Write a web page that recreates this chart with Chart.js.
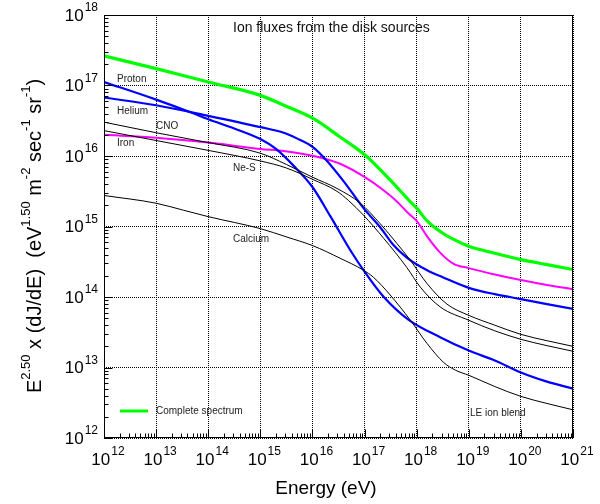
<!DOCTYPE html>
<html>
<head>
<meta charset="utf-8">
<script src="https://cdn.jsdelivr.net/npm/chart.js@4"></script>
<style>
html,body{margin:0;padding:0;background:#fff;}
canvas{display:block;}
</style>
</head>
<body>
<canvas id="c" width="600" height="504"></canvas>
<script>
// ---- data (log10 of energy in eV, log10 of E^2.5 dJ/dE) ----
const xTickExps = [12, 13, 14, 15, 16, 17, 18, 19, 20, 21];
const yTickExps = [12, 13, 14, 15, 16, 17, 18];

const completeE = [12, 13, 14, 15, 15.45, 16.02, 16.53, 17.03, 17.49, 17.88, 18.0, 18.2, 18.45, 18.7, 19.0, 19.5, 20.0, 20.5, 21.0];
const completeF = [17.42, 17.24, 17.05, 16.86, 16.72, 16.53, 16.27, 16.0, 15.66, 15.35, 15.26, 15.08, 14.93, 14.82, 14.72, 14.62, 14.53, 14.46, 14.39];

const protonE = [12, 13, 13.66, 14, 14.5, 15, 15.3, 15.64, 16.0, 16.34, 16.73, 17.0, 17.37, 17.84, 18.45, 19.0, 19.5, 20.0, 20.5, 21.0];
const protonF = [17.05, 16.80, 16.62, 16.52, 16.39, 16.24, 16.10, 15.86, 15.56, 15.15, 14.66, 14.36, 14.0, 13.68, 13.43, 13.24, 13.10, 12.93, 12.80, 12.70];

const heliumE = [12, 13, 14, 15, 15.45, 15.7, 16.02, 16.28, 16.6, 16.98, 17.3, 17.55, 17.81, 18.2, 18.5, 19.0, 19.5, 20.0, 20.5, 21.0];
const heliumF = [16.83, 16.72, 16.57, 16.41, 16.33, 16.25, 16.12, 15.93, 15.64, 15.26, 14.99, 14.74, 14.56, 14.38, 14.28, 14.13, 14.04, 13.97, 13.90, 13.83];

const ironE = [12, 13, 14, 15, 15.45, 16.02, 16.53, 17.05, 17.3, 17.6, 17.85, 18.0, 18.2, 18.45, 18.71, 19.0, 19.5, 20.0, 20.5, 21.0];
const ironF = [16.30, 16.26, 16.19, 16.10, 16.07, 16.0, 15.89, 15.68, 15.55, 15.37, 15.18, 15.08, 14.86, 14.63, 14.47, 14.41, 14.32, 14.24, 14.17, 14.11];

const cnoE = [12, 13, 14, 15, 15.5, 16.0, 16.47, 16.92, 17.3, 17.62, 17.88, 18.2, 18.58, 19.0, 19.5, 20.0, 20.5, 21.0];
const cnoF = [16.48, 16.33, 16.19, 16.04, 15.88, 15.70, 15.54, 15.33, 15.04, 14.76, 14.52, 14.19, 13.90, 13.74, 13.60, 13.47, 13.38, 13.30];

const nesE = [12, 13, 14, 15, 15.5, 16.0, 16.47, 16.69, 16.98, 17.37, 17.81, 18.07, 18.45, 19.0, 19.5, 20.0, 20.5, 21.0];
const nesF = [16.36, 16.22, 16.08, 15.93, 15.83, 15.67, 15.50, 15.37, 15.16, 14.83, 14.42, 14.14, 13.86, 13.67, 13.52, 13.40, 13.31, 13.23];

const calciumE = [12, 13, 13.53, 14, 15, 15.51, 16.0, 16.53, 16.98, 17.17, 17.49, 17.88, 18.2, 18.52, 18.75, 19.0, 19.5, 20.0, 20.5, 21.0];
const calciumF = [15.44, 15.33, 15.23, 15.14, 14.97, 14.85, 14.73, 14.55, 14.38, 14.28, 14.03, 13.67, 13.34, 13.07, 12.96, 12.89, 12.73, 12.59, 12.49, 12.40];

const curveNames = ['Proton', 'Helium', 'CNO', 'Iron', 'Ne-S', 'Calcium'];
const legendText = 'Complete spectrum';
const noteText = 'LE ion blend';
const titleText = 'Ion fluxes from the disk sources';
const xTitle = 'Energy (eV)';

// ---- build ----
const pts = (es, fs) => es.map((e, i) => ({x: Math.pow(10, e), y: Math.pow(10, fs[i])}));
function ds(label, es, fs, color, w) {
  return {label, data: pts(es, fs), borderColor: color, borderWidth: w, pointRadius: 0,
    fill: false, cubicInterpolationMode: 'monotone', borderCapStyle: 'butt', borderJoinStyle: 'round'};
}
const FONT = '"Liberation Sans", Arial, Helvetica, sans-serif';

// label pixel positions (left, middle)
const labelPos = [[117, 79], [117, 111], [156, 126], [117, 143], [233, 168], [233, 239]];

const decor = {
  id: 'decor',
  afterDraw(chart) {
    const {ctx, chartArea: a, scales: {x, y}} = chart;
    ctx.save();
    ctx.strokeStyle = '#000';
    ctx.lineWidth = 1;
    ctx.setLineDash([]);
    const L = Math.round(a.left) + 0.5, R = Math.round(a.right) - 0.5;
    const T = Math.round(a.top) + 0.5, B = Math.round(a.bottom) - 0.5;
    ctx.strokeRect(L, T, R - L, B - T);
    // ticks
    ctx.beginPath();
    for (let i = 0; i < xTickExps.length; i++) {
      const e = xTickExps[i];
      const px = Math.round(x.getPixelForValue(Math.pow(10, e))) + 0.5;
      ctx.moveTo(px, B); ctx.lineTo(px, B - 8);
      if (i < xTickExps.length - 1) {
        for (let k = 2; k <= 9; k++) {
          const mx = Math.round(x.getPixelForValue(k * Math.pow(10, e))) + 0.5;
          ctx.moveTo(mx, B); ctx.lineTo(mx, B - 4);
        }
      }
    }
    for (let i = 0; i < yTickExps.length; i++) {
      const e = yTickExps[i];
      const py = Math.round(y.getPixelForValue(Math.pow(10, e))) + 0.5;
      ctx.moveTo(L, py); ctx.lineTo(L + 8, py);
      if (i < yTickExps.length - 1) {
        for (let k = 2; k <= 9; k++) {
          const my = Math.round(y.getPixelForValue(k * Math.pow(10, e))) + 0.5;
          ctx.moveTo(L, my); ctx.lineTo(L + 4, my);
        }
      }
    }
    ctx.stroke();

    // tick labels
    ctx.fillStyle = '#000';
    ctx.textBaseline = 'middle';
    const big = '17px ' + FONT, small = '12px ' + FONT;
    xTickExps.forEach(e => {
      const px = x.getPixelForValue(Math.pow(10, e));
      ctx.font = big; const bw = ctx.measureText('10').width;
      ctx.font = small; const sw = ctx.measureText(String(e)).width;
      const start = px + 4 - (bw + sw + 1) / 2;
      ctx.textAlign = 'left';
      ctx.font = big; ctx.fillText('10', start, 460);
      ctx.font = small; ctx.fillText(String(e), start + bw + 1, 452);
    });
    yTickExps.forEach(e => {
      const py = y.getPixelForValue(Math.pow(10, e));
      ctx.font = big; const bw = ctx.measureText('10').width;
      ctx.font = small; const sw = ctx.measureText(String(e)).width;
      const right = a.left - 6;
      ctx.textAlign = 'left';
      ctx.font = big; ctx.fillText('10', right - sw - 1 - bw, py + 1);
      ctx.font = small; ctx.fillText(String(e), right - sw, py - 7);
    });

    // x title
    ctx.font = '19px ' + FONT;
    ctx.textAlign = 'center';
    ctx.fillText(xTitle, 326, 489);

    // y title (rotated, with superscripts)
    const segs = [['E', 0], ['2.50', 1], [' x (dJ/dE)  (eV', 0], ['1.50', 1], [' m', 0], ['-2', 1],
      [' sec', 0], ['-1', 1], [' sr', 0], ['-1', 1], [')', 0]];
    const mainF = '20px ' + FONT, supF = '13px ' + FONT;
    let total = 0;
    segs.forEach(s => { ctx.font = s[1] ? supF : mainF; total += ctx.measureText(s[0]).width; });
    ctx.save();
    ctx.translate(35, 236);
    ctx.rotate(-Math.PI / 2);
    ctx.textAlign = 'left';
    let cx = -total / 2;
    segs.forEach(s => {
      ctx.font = s[1] ? supF : mainF;
      ctx.fillText(s[0], cx, s[1] ? -9 : 0);
      cx += ctx.measureText(s[0]).width;
    });
    ctx.restore();

    // title
    ctx.font = '14px ' + FONT;
    ctx.textAlign = 'left';
    ctx.fillStyle = '#111';
    ctx.fillText(titleText, 233, 28);

    // curve labels
    ctx.font = '10px ' + FONT;
    ctx.fillStyle = '#222';
    curveNames.forEach((n, i) => ctx.fillText(n, labelPos[i][0], labelPos[i][1]));

    // legend
    ctx.strokeStyle = '#00ff00';
    ctx.lineWidth = 3;
    ctx.beginPath(); ctx.moveTo(120, 411); ctx.lineTo(148, 411); ctx.stroke();
    ctx.fillText(legendText, 156, 411);
    ctx.fillText(noteText, 470, 413);
    ctx.restore();
  }
};

const gridOpts = {display: true, drawTicks: false, color: '#000', lineWidth: 1};
new Chart(document.getElementById('c'), {
  type: 'line',
  data: {
    datasets: [
      ds('Calcium', calciumE, calciumF, '#000000', 1),
      ds('Ne-S', nesE, nesF, '#000000', 1),
      ds('CNO', cnoE, cnoF, '#000000', 1),
      ds('Helium', heliumE, heliumF, '#0000ff', 2.2),
      ds('Proton', protonE, protonF, '#0000ff', 2.2),
      ds('Iron', ironE, ironF, '#ff00ff', 2),
      ds('Complete spectrum', completeE, completeF, '#00ff00', 3.2)
    ]
  },
  options: {
    responsive: false,
    animation: false,
    devicePixelRatio: 1,
    layout: {padding: {top: 15, right: 27, left: 0, bottom: 0}},
    plugins: {legend: {display: false}, tooltip: {enabled: false}, title: {display: false}},
    scales: {
      x: {type: 'logarithmic', min: 1e12, max: 1e21,
        afterBuildTicks: s => { s.ticks = xTickExps.map(e => ({value: Math.pow(10, e)})); },
        ticks: {display: false}, grid: gridOpts, border: {display: false, dash: [1, 1]},
        afterFit: s => { s.height = 66; }},
      y: {type: 'logarithmic', min: 1e12, max: 1e18,
        afterBuildTicks: s => { s.ticks = yTickExps.map(e => ({value: Math.pow(10, e)})); },
        ticks: {display: false}, grid: gridOpts, border: {display: false, dash: [1, 1]},
        afterFit: s => { s.width = 104; }}
    }
  },
  plugins: [decor]
});
</script>
</body>
</html>
